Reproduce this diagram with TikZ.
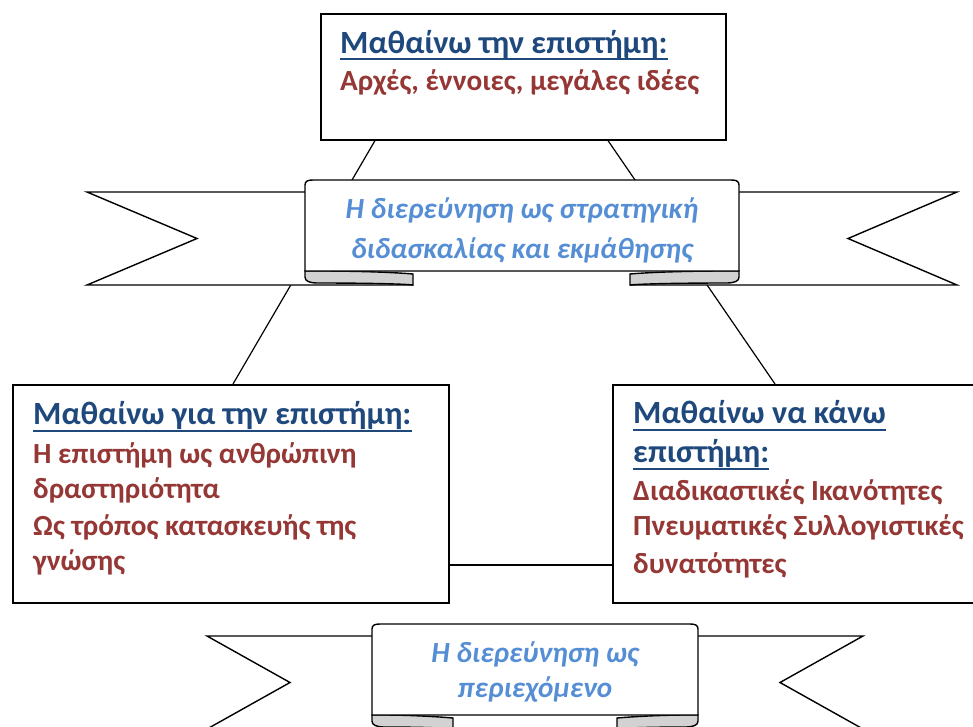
\documentclass[tikz,border=0pt]{standalone}
\usepackage{fontspec}
\setmainfont{Carlito}
\usetikzlibrary{calc}
\definecolor{headblue}{HTML}{1F497D}
\definecolor{bodyred}{HTML}{953735}
\definecolor{ribblue}{HTML}{558ED5}
\begin{document}
\begin{tikzpicture}[x=1pt,y=-1pt,
  boxshape/.style={draw=black, line width=1.6pt, fill=white, inner sep=0pt, anchor=north west},
  hd/.style={text=headblue, font=\fontsize{32.4}{38}\selectfont\bfseries, inner sep=0pt, anchor=base west},
  bd/.style={text=bodyred, font=\fontsize{29.2}{35}\selectfont\bfseries, inner sep=0pt, anchor=base west},
  rb/.style={text=ribblue, font=\fontsize{29.2}{35}\selectfont\bfseries\itshape, inner sep=0pt, anchor=base},
  uline/.style={draw=headblue, line width=1.8pt},
  conn/.style={draw=black, line width=1.2pt},
  band/.style={draw=black, fill=white, line width=1.4pt, line join=miter},
  fold/.style={draw=black, fill=gray!35, line width=1.4pt},
  panel/.style={draw=black, fill=white, line width=1.4pt}]
\useasboundingbox (0,0) rectangle (973,726);
\clip (0,0) rectangle (973,726);

% boxes
\node[boxshape, minimum width=405pt, minimum height=126pt] (top) at (320,13) {};
\node[boxshape, minimum width=436pt, minimum height=218pt] (left) at (12,384) {};
\node[boxshape, minimum width=380pt, minimum height=218pt] (right) at (612,384) {};

% connectors
\draw[conn] ($(top.south west)+(55,0)$) -- ($(left.north west)+(221,0)$);
\draw[conn] ($(top.south west)+(288,0)$) -- ($(right.north west)+(163,0)$);
\draw[conn] ($(left.north east)+(0,181)$) -- ($(right.north west)+(0,181)$);

% top box text
\node[hd] (tophd) at (340,53) {Μαθαίνω την επιστήμη:};
\draw[uline] ([yshift=-6pt]tophd.base west) -- ([yshift=-6pt]tophd.base east);
\node[bd] (topb1) at (340,90) {Αρχές, έννοιες, μεγάλες ιδέες};

% left box text
\node[hd] (lefthd) at (33,424) {Μαθαίνω για την επιστήμη:};
\draw[uline] ([yshift=-7pt]lefthd.base west) -- ([yshift=-7pt]lefthd.base east);
\node[bd] (leftb1) at (33,463) {Η επιστήμη ως ανθρώπινη};
\node[bd] (leftb2) at (33,498) {δραστηριότητα};
\node[bd] (leftb3) at (33,535) {Ως τρόπος κατασκευής της};
\node[bd] (leftb4) at (33,570) {γνώσης};

% right box text
\node[hd] (righthd1) at (633,423) {Μαθαίνω να κάνω};
\draw[uline] ([yshift=-7pt]righthd1.base west) -- ([yshift=-7pt]righthd1.base east);
\node[hd] (righthd2) at (633,462) {επιστήμη:};
\draw[uline] ([yshift=-7pt]righthd2.base west) -- ([yshift=-7pt]righthd2.base east);
\node[bd] (rightb1) at (633,500) {Διαδικαστικές Ικανότητες};
\node[bd] (rightb2) at (633,535) {Πνευματικές Συλλογιστικές};
\node[bd] (rightb3) at (633,573) {δυνατότητες};

% ribbon 1
\filldraw[band] (305,192) -- (87,192) -- (197,238.5) -- (87,285) -- (413,285);
\filldraw[band] (739,192) -- (957,192) -- (848,238.5) -- (957,285) -- (630,285);
\filldraw[fold] (305,271) -- (305,277) .. controls (305,281) and (309,283) .. (318,283) .. controls (370,283) and (405,284) .. (413,285) -- (413,274) .. controls (390,272) and (350,271) .. (320,271) -- cycle;
\filldraw[fold] (739,271) -- (739,277) .. controls (739,281) and (735,283) .. (726,283) .. controls (674,283) and (639,284) .. (630,285) -- (630,274) .. controls (653,272) and (693,271) .. (724,271) -- cycle;
\filldraw[panel] (305,271) -- (305,185) .. controls (305,181) and (308,180) .. (313,180) -- (731,180) .. controls (736,180) and (739,181) .. (739,185) -- (739,271) -- cycle;
\node[rb] (rib1a) at (522,218) {Η διερεύνηση ως στρατηγική};
\node[rb] (rib1b) at (522,258) {διδασκαλίας και εκμάθησης};

% ribbon 2
\filldraw[band] (372,636) -- (207,636) -- (290,682.5) -- (207,729) -- (453,729);
\filldraw[band] (698,636) -- (863,636) -- (780,682.5) -- (863,729) -- (617,729);
\filldraw[fold] (372,715) -- (372,721) .. controls (372,725) and (376,727) .. (385,727) .. controls (420,727) and (448,728) .. (453,729) -- (453,718) .. controls (430,716) and (400,715) .. (385,715) -- cycle;
\filldraw[fold] (698,715) -- (698,721) .. controls (698,725) and (694,727) .. (685,727) .. controls (650,727) and (622,728) .. (617,729) -- (617,718) .. controls (640,716) and (670,715) .. (685,715) -- cycle;
\filldraw[panel] (372,715) -- (372,629) .. controls (372,625) and (375,624) .. (380,624) -- (690,624) .. controls (695,624) and (698,625) .. (698,629) -- (698,715) -- cycle;
\node[rb] (rib2a) at (535,662) {Η διερεύνηση ως};
\node[rb] (rib2b) at (535,697) {περιεχόμενο};
\end{tikzpicture}
\end{document}
